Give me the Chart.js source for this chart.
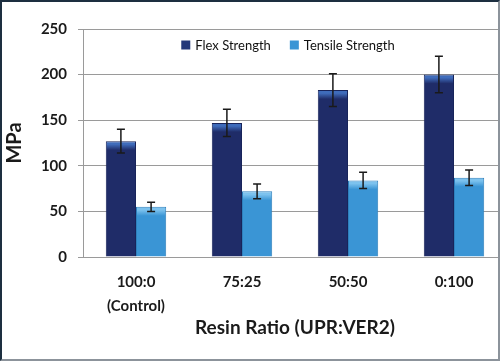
<!DOCTYPE html>
<html>
<head>
<meta charset="utf-8">
<script src="https://cdn.jsdelivr.net/npm/chart.js@4"></script>
<style>
  html, body { margin:0; padding:0; background:#fff; overflow:hidden; width:500px; height:361px; }
  #wrap { position:absolute; left:0; top:0; width:508px; height:361px; }
  #frame { position:absolute; left:0; top:0; width:500px; height:361px; box-sizing:border-box;
           border-top:2px solid #1d2f40; border-left:2px solid #1d2f40;
           border-right:2px solid #8c939b; border-bottom:2px solid #8c939b; pointer-events:none; }
</style>
</head>
<body>
<div id="wrap"><canvas id="c" width="508" height="361"></canvas></div>
<div id="frame"></div>
<script>
const categories = [["100:0", "(Control)"], "75:25", "50:50", "0:100"];
const flexStrength = [127, 147, 183, 200];
const flexError = [13, 15, 18, 20];
const tensileStrength = [55, 72, 84, 87];
const tensileError = [5, 8, 9, 8.5];
const yTicks = [0, 50, 100, 150, 200, 250];

const FONT = "Lato, 'Open Sans', sans-serif";
const FLEX_BASE = '#1f2c68', FLEX_TOP = '#3f6cbb';
const TENS_BASE = '#3a95d5', TENS_TOP = '#7cc2ee';

function barFill(base, top) {
  return (ctx) => {
    const chart = ctx.chart;
    const ys = chart.scales && chart.scales.y;
    if (!ys || !chart.chartArea || typeof ctx.raw !== 'number') return base;
    const yTop = ys.getPixelForValue(ctx.raw);
    if (!isFinite(yTop)) return base;
    const g = chart.ctx.createLinearGradient(0, yTop, 0, yTop + 9);
    g.addColorStop(0, top);
    g.addColorStop(0.35, top);
    g.addColorStop(1, base);
    return g;
  };
}

const errorBars = {
  id: 'errorBars',
  afterDatasetsDraw(chart) {
    const ctx = chart.ctx;
    const y = chart.scales.y;
    chart.data.datasets.forEach((ds, i) => {
      const meta = chart.getDatasetMeta(i);
      meta.data.forEach((bar, j) => {
        const v = ds.data[j], e = ds.errors[j];
        const yt = y.getPixelForValue(v + e), yb = y.getPixelForValue(v - e);
        const x = bar.x, cap = 4;
        ctx.save();
        ctx.strokeStyle = '#1a1a1a';
        ctx.lineWidth = 1.5;
        ctx.beginPath();
        ctx.moveTo(x, yt); ctx.lineTo(x, yb);
        ctx.moveTo(x - cap, yt); ctx.lineTo(x + cap, yt);
        ctx.moveTo(x - cap, yb); ctx.lineTo(x + cap, yb);
        ctx.stroke();
        ctx.restore();
      });
    });
  }
};

const innerLegend = {
  id: 'innerLegend',
  afterDraw(chart) {
    const ctx = chart.ctx, area = chart.chartArea;
    const box = 9, gapText = 5, gapItem = 19;
    ctx.save();
    ctx.font = "13px " + FONT;
    const items = chart.data.datasets.map((ds, i) => ({
      label: ds.label, color: ds.legendColor, w: box + gapText + ctx.measureText(ds.label).width
    }));
    const total = items.reduce((s, it) => s + it.w, 0) + gapItem * (items.length - 1);
    let x = (area.left + area.right) / 2 - 7 - total / 2;
    const yc = area.top + 16;
    ctx.textBaseline = 'middle';
    items.forEach(it => {
      ctx.fillStyle = it.color;
      ctx.fillRect(x, yc - box / 2, box, box);
      ctx.fillStyle = '#111';
      ctx.fillText(it.label, x + box + gapText, yc + 0.5);
      x += it.w + gapItem;
    });
    ctx.restore();
  }
};

new Chart(document.getElementById('c'), {
  type: 'bar',
  data: {
    labels: categories,
    datasets: [
      { label: 'Flex Strength', data: flexStrength, errors: flexError, legendColor: '#24387a',
        backgroundColor: barFill(FLEX_BASE, FLEX_TOP), borderColor: '#18245a', borderWidth: 1,
        categoryPercentage: 0.57, barPercentage: 1.0 },
      { label: 'Tensile Strength', data: tensileStrength, errors: tensileError, legendColor: '#3a95d5',
        backgroundColor: barFill(TENS_BASE, TENS_TOP), borderColor: '#2f80bd', borderWidth: 1,
        categoryPercentage: 0.57, barPercentage: 1.0 }
    ]
  },
  options: {
    responsive: false,
    animation: false,
    devicePixelRatio: 1,
    layout: { padding: { left: 0, right: 1, top: 29, bottom: 0 } },
    plugins: {
      tooltip: { enabled: false },
      legend: { display: false }
    },
    scales: {
      x: {
        grid: { display: false, drawTicks: false },
        border: { display: true, color: '#9a9a9a', width: 1 },
        ticks: { color: '#1a1a1a', padding: 14, maxRotation: 0,
                 font: { family: FONT, size: 15, weight: 'bold', lineHeight: 1.55 } },
        title: { display: true, text: 'Resin Ratio (UPR:VER2)', color: '#1a1a1a',
                 padding: { top: 0, bottom: 22 },
                 font: { family: FONT, size: 19, weight: 'bold' } },
        afterFit(s) { s.height = 104; }
      },
      y: {
        min: 0, max: 250,
        afterBuildTicks(s) { s.ticks = yTicks.map(v => ({ value: v })); },
        grid: { color: '#9a9a9a', lineWidth: 1, tickLength: 5, drawTicks: true },
        border: { display: true, color: '#9a9a9a', width: 1 },
        ticks: { color: '#1a1a1a', padding: 11,
                 font: { family: FONT, size: 15, weight: 'bold' } },
        title: { display: true, text: 'MPa', color: '#1a1a1a',
                 padding: { top: 3, bottom: 0 },
                 font: { family: FONT, size: 20, weight: 'bold' } },
        afterFit(s) { s.width = 83; }
      }
    }
  },
  plugins: [errorBars, innerLegend]
});
</script>
</body>
</html>
